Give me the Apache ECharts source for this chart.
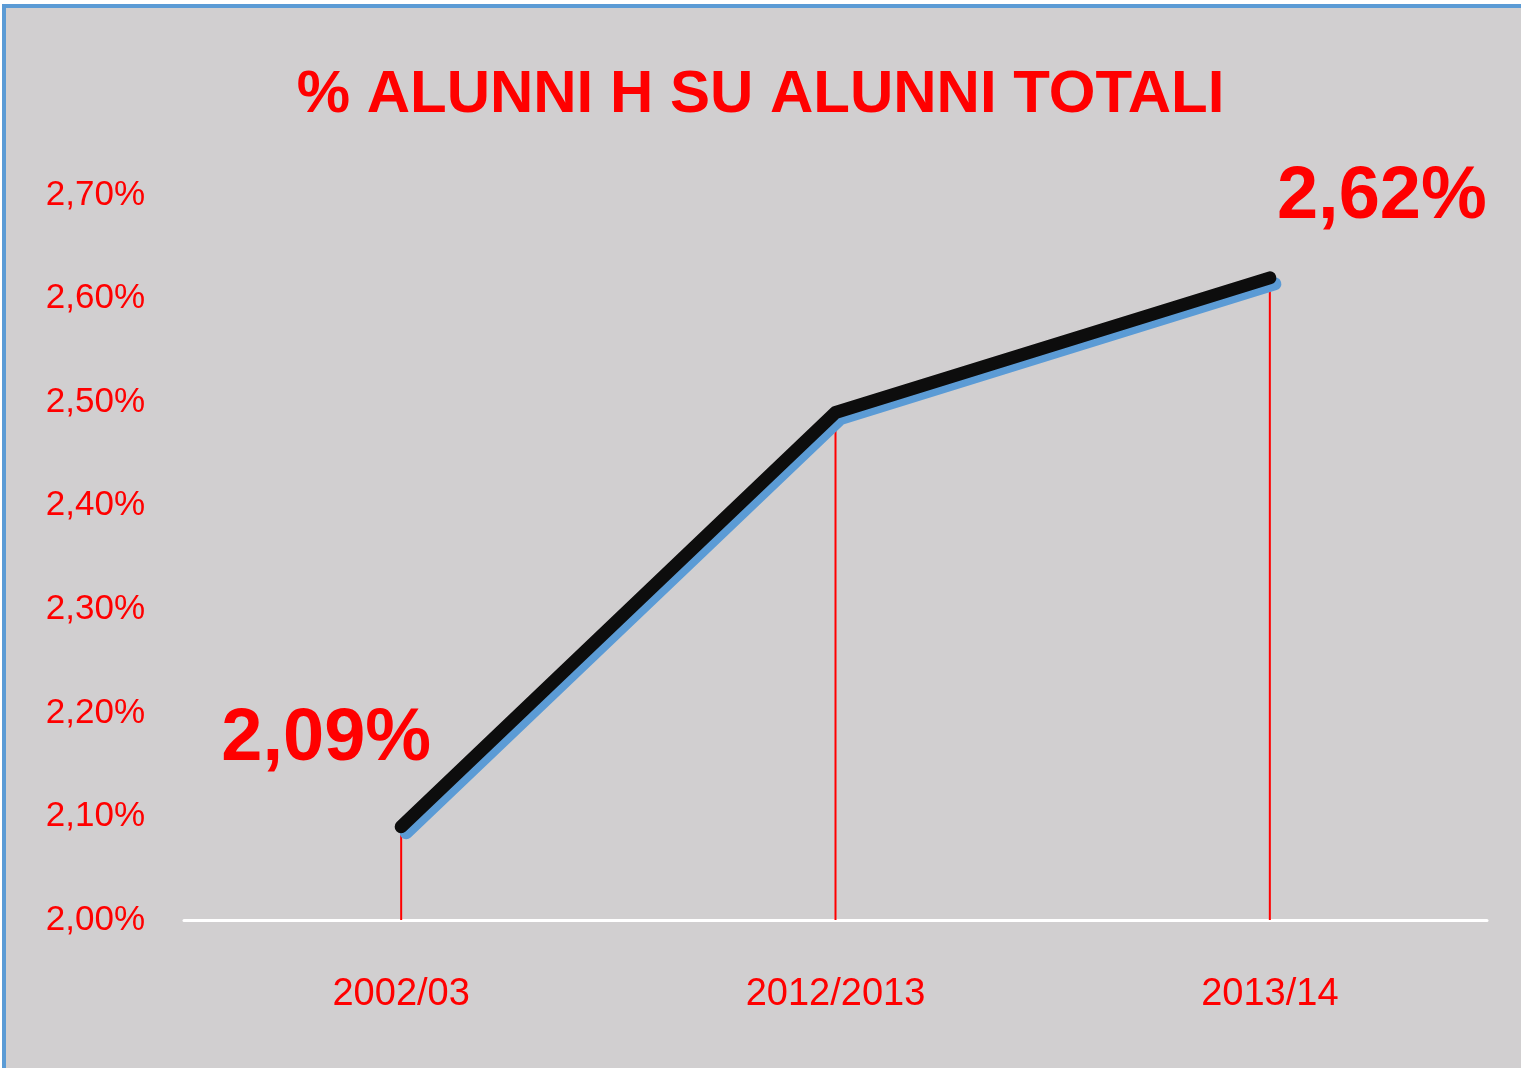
<!DOCTYPE html>
<html>
<head>
<meta charset="utf-8">
<script src="https://cdn.jsdelivr.net/npm/echarts@6/dist/echarts.min.js"></script>
<style>
html,body{margin:0;padding:0;background:#ffffff;}
#chart{position:absolute;left:0;top:0;width:1521px;height:1068px;}
</style>
</head>
<body>
<div id="chart"></div>
<script>
var titleText = '% ALUNNI H SU ALUNNI TOTALI';
var categories = ['2002/03', '2012/2013', '2013/14'];
var values = [2.09, 2.49, 2.62];
var labelTexts = ['2,09%', '', '2,62%'];
var yMin = 2.0, yMax = 2.7, yStep = 0.1;

var chart = echarts.init(document.getElementById('chart'), null, {renderer: 'canvas'});
var red = '#ff0000';
var option = {
  backgroundColor: '#d1cfd0',
  animation: false,
  title: {
    text: titleText,
    left: 'center',
    top: 60,
    textStyle: {color: red, fontFamily: 'Liberation Sans', fontWeight: 'bold', fontSize: 60}
  },
  graphic: [
    {type: 'rect', left: 0, top: 0, shape: {width: 1521, height: 4}, style: {fill: '#ffffff'}},
    {type: 'rect', left: 0, top: 0, shape: {width: 2, height: 1068}, style: {fill: '#ffffff'}},
    {type: 'rect', left: 2, top: 4, shape: {width: 1519, height: 4}, style: {fill: '#5b9bd5'}},
    {type: 'rect', left: 2, top: 4, shape: {width: 4, height: 1064}, style: {fill: '#5b9bd5'}}
  ],
  grid: {left: 184, right: 34, top: 195, bottom: 148, containLabel: false},
  xAxis: {
    type: 'category',
    data: categories,
    boundaryGap: true,
    axisLine: {show: true, lineStyle: {color: '#ffffff', width: 3}},
    axisTick: {show: false},
    axisLabel: {color: red, fontFamily: 'Liberation Sans', fontSize: 38, margin: 56}
  },
  yAxis: {
    type: 'value',
    min: yMin,
    max: yMax,
    interval: yStep,
    axisLine: {show: false},
    axisTick: {show: false},
    splitLine: {show: false},
    axisLabel: {
      color: red, fontFamily: 'Liberation Sans', fontSize: 35, margin: 39,
      formatter: function (v) { return v.toFixed(2).replace('.', ',') + '%'; }
    }
  },
  series: [
    {
      type: 'bar',
      data: values,
      barWidth: 2,
      itemStyle: {color: red},
      z: 1,
      silent: true
    },
    {
      type: 'line',
      data: values.map(function (v, i) {
        return {
          value: v,
          label: {
            show: labelTexts[i] !== '',
            formatter: labelTexts[i],
            position: 'inside',
            offset: i === 0 ? [-75, -87] : [112, -80]
          }
        };
      }),
      symbol: 'circle',
      symbolSize: 2,
      showSymbol: true,
      itemStyle: {color: 'rgba(0,0,0,0)'},
      z: 3,
      lineStyle: {
        color: '#0d0d0d', width: 13, cap: 'round', join: 'round',
        shadowColor: '#5b9bd5', shadowBlur: 0, shadowOffsetX: 5, shadowOffsetY: 6
      },
      label: {
        show: true,
        color: red, fontFamily: 'Liberation Sans', fontWeight: 'bold', fontSize: 74,
        align: 'center', verticalAlign: 'middle'
      }
    }
  ]
};
chart.setOption(option);
</script>
</body>
</html>
